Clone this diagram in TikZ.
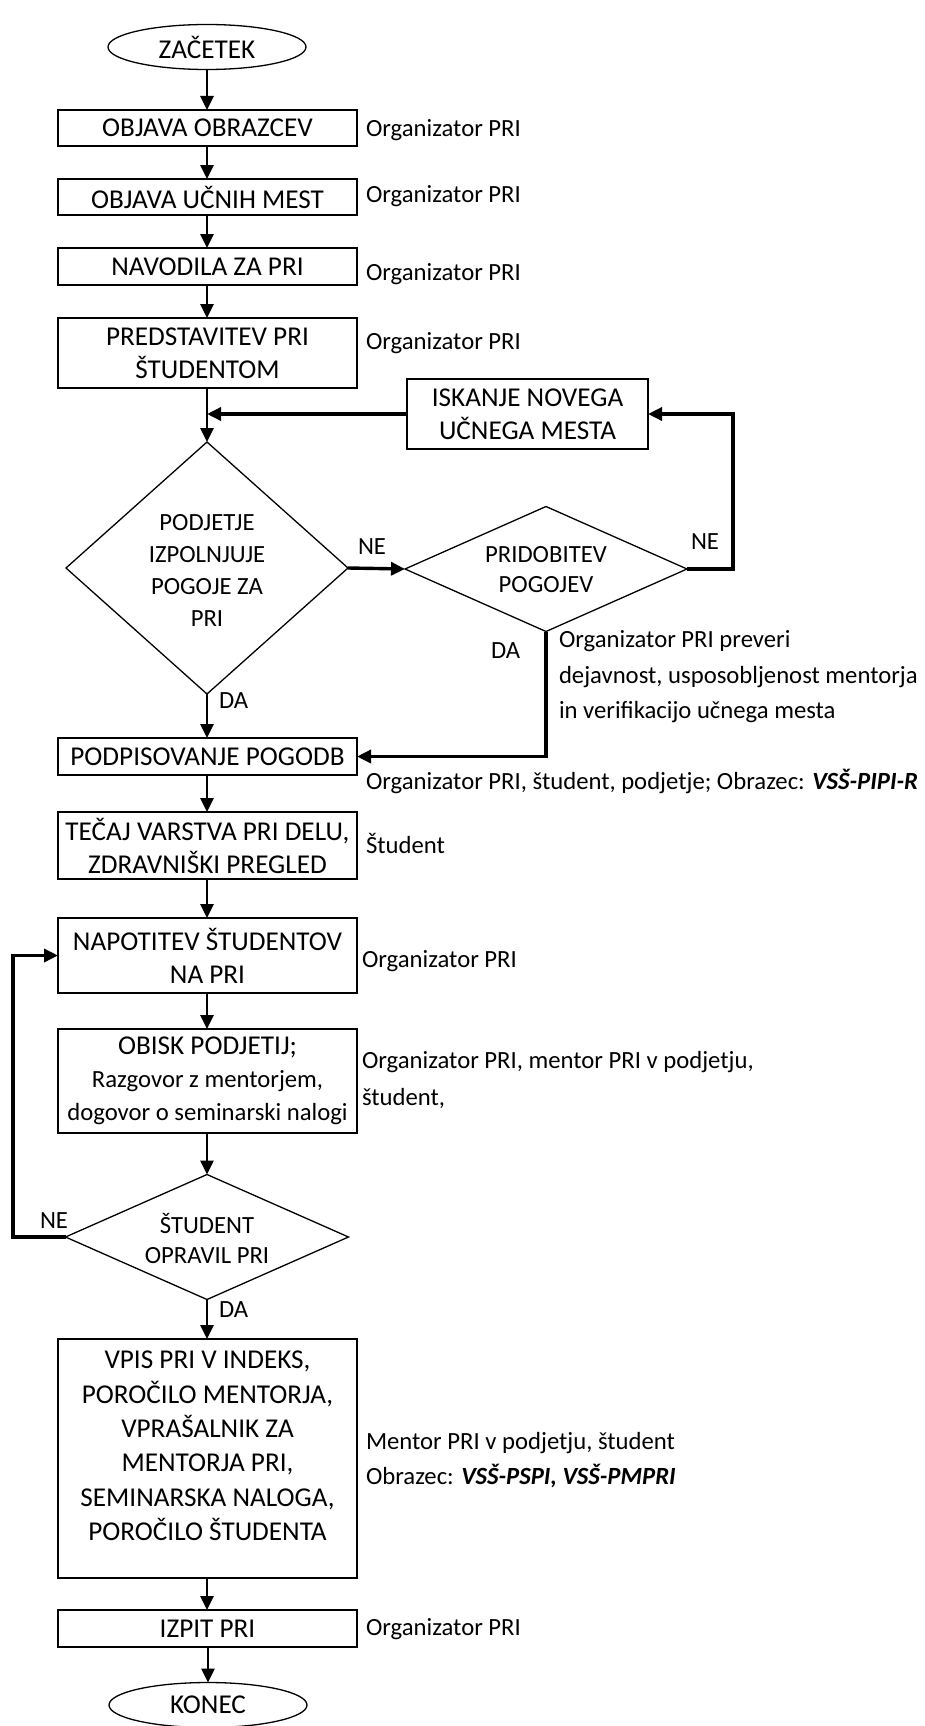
\documentclass[tikz,border=0pt]{standalone}
\usepackage{fontspec}
\setmainfont{Carlito}
\usetikzlibrary{shapes.geometric,arrows.meta,calc}

\newcommand\boxfont{\fontsize{27.2pt}{33pt}\selectfont}
\newcommand\notefont{\fontsize{24.7pt}{36pt}\selectfont}

\begin{document}
\begin{tikzpicture}[x=1pt,y=-1pt,
  every node/.style={inner sep=0pt, outer sep=0pt},
  box/.style={draw, line width=1.3pt, minimum width=299pt, align=center, font=\boxfont},
  term/.style={draw, ellipse, line width=1.3pt, minimum width=198pt, minimum height=45pt, font=\boxfont},
  decision/.style={draw, diamond, line width=1.3pt},
  dtext/.style={align=center, font=\fontsize{24.7pt}{#1}\selectfont},
  note/.style={anchor=base west, font=\notefont},
  flow/.style={line width=2.6pt, -{Triangle[length=14pt,width=13pt]}},
  loop/.style={line width=3.4pt, -{Triangle[length=14pt,width=13pt]}},
]
\useasboundingbox (0,0) rectangle (925,1726);

% --- main column ---
\node[term] (start) at (207,47) {ZAČETEK};
\node[box, minimum height=36pt] (b1) at (207.5,128) {OBJAVA OBRAZCEV};
\node[box, minimum height=36pt] (b2) at (207.5,197) {OBJAVA UČNIH MEST};
\node[box, minimum height=37pt] (b3) at (207.5,266.5) {NAVODILA ZA PRI};
\node[box, minimum height=70pt] (b4) at (207.5,353) {PREDSTAVITEV PRI\\ŠTUDENTOM};
\node[box, minimum width=241pt, minimum height=70pt] (isk) at (527.5,414) {ISKANJE NOVEGA\\UČNEGA MESTA};

\node[decision, minimum width=282pt, minimum height=252pt] (d1) at (207,568) {};
\node[dtext=32pt] (d1t) at (207,570) {PODJETJE\\IZPOLNJUJE\\POGOJE ZA\\PRI};
\node[decision, minimum width=282pt, minimum height=125pt] (d2) at (546,569) {};
\node[dtext=30pt] (d2t) at (546,570) {PRIDOBITEV\\POGOJEV};

\node[box, minimum height=37pt] (b5) at (207.5,756.5) {PODPISOVANJE POGODB};
\node[box, minimum height=67pt] (b6) at (207.5,845.5) {TEČAJ VARSTVA PRI DELU,\\ZDRAVNIŠKI PREGLED};
\node[box, minimum height=75pt] (b7) at (207.5,955.5) {NAPOTITEV ŠTUDENTOV\\NA PRI};
\node[box, minimum height=104pt] (b8) at (207.5,1081) {OBISK PODJETIJ;\\{\notefont Razgovor z mentorjem,}\\{\notefont dogovor o seminarski nalogi}};

\node[decision, minimum width=283pt, minimum height=125pt] (d3) at (207,1237) {};
\node[dtext=30pt] (d3t) at (207,1238) {ŠTUDENT\\OPRAVIL PRI};

\node[box, minimum height=239pt] (b9) at (207.5,1458.5) {};
\node[align=center, font=\fontsize{27.2pt}{34.4pt}\selectfont] (b9t) at (207.5,1446)
  {VPIS PRI V INDEKS,\\POROČILO MENTORJA,\\VPRAŠALNIK ZA\\MENTORJA PRI,\\SEMINARSKA NALOGA,\\POROČILO ŠTUDENTA};
\node[box, minimum height=37pt] (b10) at (207.5,1628.5) {IZPIT PRI};
\node[term] (end) at (208,1705) {KONEC};

% --- responsibilities ---
\node[note] (n1) at (366,136) {Organizator PRI};
\node[note] (n2) at (366,202) {Organizator PRI};
\node[note] (n3) at (366,280) {Organizator PRI};
\node[note] (n4) at (366,349) {Organizator PRI};
\node[note] (n5a) at (559,647) {Organizator PRI preveri};
\node[note] (n5b) at (559,683) {dejavnost, usposobljenost mentorja};
\node[note] (n5c) at (559,718) {in verifikacijo učnega mesta};
\node[note] (n6) at (366,789) {Organizator PRI, študent, podjetje; Obrazec: \textbf{\textit{VSŠ-PIPI-R}}};
\node[note] (n7) at (366,853) {Študent};
\node[note] (n8) at (362,967) {Organizator PRI};
\node[note] (n9a) at (362,1068) {Organizator PRI, mentor PRI v podjetju,};
\node[note] (n9b) at (362,1105) {študent,};
\node[note] (n10a) at (366,1449) {Mentor PRI v podjetju, študent};
\node[note] (n10b) at (366,1484) {Obrazec: \textbf{\textit{VSŠ-PSPI, VSŠ-PMPRI}}};
\node[note] (n11) at (366,1635) {Organizator PRI};

% --- branch labels ---
\node[note] (ne1) at (358,554) {NE};
\node[note] (ne2) at (691,549) {NE};
\node[note] (da1) at (219,708) {DA};
\node[note] (da2) at (491,658) {DA};
\node[note] (ne3) at (40,1228) {NE};
\node[note] (da3) at (219,1317) {DA};

% --- connectors ---
\coordinate (rx) at (733,0);
\coordinate (lx) at (13,0);

\draw[flow] (start.south) -- (start.south |- b1.north);
\draw[flow] (b1.south -| start.south) -- (start.south |- b2.north);
\draw[flow] (b2.south -| start.south) -- (start.south |- b3.north);
\draw[flow] (b3.south -| start.south) -- (start.south |- b4.north);
\draw[flow] (b4.south -| d1.north) -- (d1.north);
\draw[loop] (isk.west) -- (isk.west -| d1.north);
\draw[loop] (d1.east) -- (d2.west);
\draw[loop] (d2.east) -- (d2.east -| rx) |- (isk.east);
\draw[loop] (d2.south) |- (b5.east);
\draw[flow] (d1.south) -- (d1.south |- b5.north);
\draw[flow] (b5.south -| d1.south) -- (d1.south |- b6.north);
\draw[flow] (b6.south -| d1.south) -- (d1.south |- b7.north);
\draw[flow] (b7.south -| d1.south) -- (d1.south |- b8.north);
\draw[flow] (b8.south -| d3.north) -- (d3.north);
\draw[loop] (d3.west) -- (d3.west -| lx) |- (b7.west);
\draw[flow] (d3.south) -- (d3.south |- b9.north);
\draw[flow] (b9.south -| d3.south) -- (d3.south |- b10.north);
\draw[flow] (b10.south -| end.north) -- (end.north);
\end{tikzpicture}
\end{document}
